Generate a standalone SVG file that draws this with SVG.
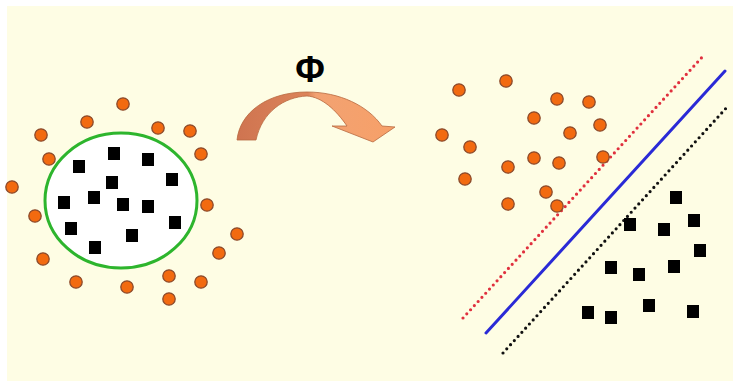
<svg xmlns="http://www.w3.org/2000/svg" width="740" height="381" viewBox="0 0 740 381">
  <defs>
    <style>
      .pt { fill: #f26a10; stroke: #8a4a2c; stroke-width: 1.3; }
      .sq { fill: #000; }
      .phi { font-family: "Liberation Sans", Arial, sans-serif; font-size: 36px; font-weight: bold; fill: #000; }
    </style>
    <linearGradient id="arrowFill" x1="237" y1="0" x2="395" y2="0" gradientUnits="userSpaceOnUse">
      <stop offset="0" stop-color="#cf7450"/>
      <stop offset="0.45" stop-color="#dc845a"/>
      <stop offset="0.5" stop-color="#f2a272"/>
      <stop offset="1" stop-color="#f7a068"/>
    </linearGradient>
  </defs>

  <!-- page background -->
  <rect x="0" y="0" width="740" height="381" fill="#ffffff"/>
  <rect x="7" y="6" width="726" height="375" fill="#fefde4"/>

  <!-- input space: ring of points around the enclosed class -->
  <g id="input-space">
    <ellipse cx="121" cy="200.5" rx="76" ry="67.5" fill="#ffffff" stroke="#2db52d" stroke-width="3"/>
    <g id="input-squares">
      <rect class="sq" x="73" y="160" width="12" height="13"/>
      <rect class="sq" x="108" y="147" width="12" height="13"/>
      <rect class="sq" x="142" y="153" width="12" height="13"/>
      <rect class="sq" x="106" y="176" width="12" height="13"/>
      <rect class="sq" x="166" y="173" width="12" height="13"/>
      <rect class="sq" x="58" y="196" width="12" height="13"/>
      <rect class="sq" x="88" y="191" width="12" height="13"/>
      <rect class="sq" x="117" y="198" width="12" height="13"/>
      <rect class="sq" x="142" y="200" width="12" height="13"/>
      <rect class="sq" x="65" y="222" width="12" height="13"/>
      <rect class="sq" x="169" y="216" width="12" height="13"/>
      <rect class="sq" x="126" y="229" width="12" height="13"/>
      <rect class="sq" x="89" y="241" width="12" height="13"/>
    </g>
    <g id="input-circles">
      <circle class="pt" cx="123" cy="104" r="6.2"/>
      <circle class="pt" cx="87" cy="122" r="6.2"/>
      <circle class="pt" cx="41" cy="135" r="6.2"/>
      <circle class="pt" cx="158" cy="128" r="6.2"/>
      <circle class="pt" cx="190" cy="131" r="6.2"/>
      <circle class="pt" cx="49" cy="159" r="6.2"/>
      <circle class="pt" cx="201" cy="154" r="6.2"/>
      <circle class="pt" cx="12" cy="187" r="6.2"/>
      <circle class="pt" cx="35" cy="216" r="6.2"/>
      <circle class="pt" cx="207" cy="205" r="6.2"/>
      <circle class="pt" cx="237" cy="234" r="6.2"/>
      <circle class="pt" cx="43" cy="259" r="6.2"/>
      <circle class="pt" cx="219" cy="253" r="6.2"/>
      <circle class="pt" cx="76" cy="282" r="6.2"/>
      <circle class="pt" cx="127" cy="287" r="6.2"/>
      <circle class="pt" cx="169" cy="276" r="6.2"/>
      <circle class="pt" cx="201" cy="282" r="6.2"/>
      <circle class="pt" cx="169" cy="299" r="6.2"/>
    </g>
  </g>

  <!-- feature map: curved arrow with its label -->
  <g id="mapping">
    <text class="phi" x="310" y="82" text-anchor="middle">Φ</text>
    <path d="M237,140 C240,112 268,92 307,92 C340,92 368,106 382,126 L395,127 L373,142 L332,126 L347,126 C336,110 322,97 307,96 C284,97 262,112 256,140 Z"
          fill="url(#arrowFill)" stroke="#b8683f" stroke-width="0.8"/>
  </g>

  <!-- feature space: separating hyperplane and margins -->
  <g id="separators">
    <line x1="463" y1="318" x2="705" y2="54" stroke="#e0303e" stroke-width="3.2" stroke-linecap="round" stroke-dasharray="0 5.6"/>
    <line x1="486" y1="333" x2="725" y2="71" stroke="#2a2ad6" stroke-width="3" stroke-linecap="round"/>
    <line x1="503" y1="353" x2="728" y2="106" stroke="#111" stroke-width="3.2" stroke-linecap="round" stroke-dasharray="0 5.6"/>
  </g>

  <g id="feature-circles">
    <circle class="pt" cx="459" cy="90" r="6.2"/>
    <circle class="pt" cx="506" cy="81" r="6.2"/>
    <circle class="pt" cx="557" cy="99" r="6.2"/>
    <circle class="pt" cx="589" cy="102" r="6.2"/>
    <circle class="pt" cx="534" cy="118" r="6.2"/>
    <circle class="pt" cx="600" cy="125" r="6.2"/>
    <circle class="pt" cx="442" cy="135" r="6.2"/>
    <circle class="pt" cx="570" cy="133" r="6.2"/>
    <circle class="pt" cx="470" cy="147" r="6.2"/>
    <circle class="pt" cx="534" cy="158" r="6.2"/>
    <circle class="pt" cx="559" cy="163" r="6.2"/>
    <circle class="pt" cx="603" cy="157" r="6.2"/>
    <circle class="pt" cx="508" cy="167" r="6.2"/>
    <circle class="pt" cx="465" cy="179" r="6.2"/>
    <circle class="pt" cx="546" cy="192" r="6.2"/>
    <circle class="pt" cx="508" cy="204" r="6.2"/>
    <circle class="pt" cx="557" cy="206" r="6.2"/>
  </g>

  <g id="feature-squares">
    <rect class="sq" x="670" y="191" width="12" height="13"/>
    <rect class="sq" x="624" y="218" width="12" height="13"/>
    <rect class="sq" x="658" y="223" width="12" height="13"/>
    <rect class="sq" x="688" y="214" width="12" height="13"/>
    <rect class="sq" x="694" y="244" width="12" height="13"/>
    <rect class="sq" x="605" y="261" width="12" height="13"/>
    <rect class="sq" x="633" y="268" width="12" height="13"/>
    <rect class="sq" x="668" y="260" width="12" height="13"/>
    <rect class="sq" x="582" y="306" width="12" height="13"/>
    <rect class="sq" x="605" y="311" width="12" height="13"/>
    <rect class="sq" x="643" y="299" width="12" height="13"/>
    <rect class="sq" x="687" y="305" width="12" height="13"/>
  </g>
</svg>
